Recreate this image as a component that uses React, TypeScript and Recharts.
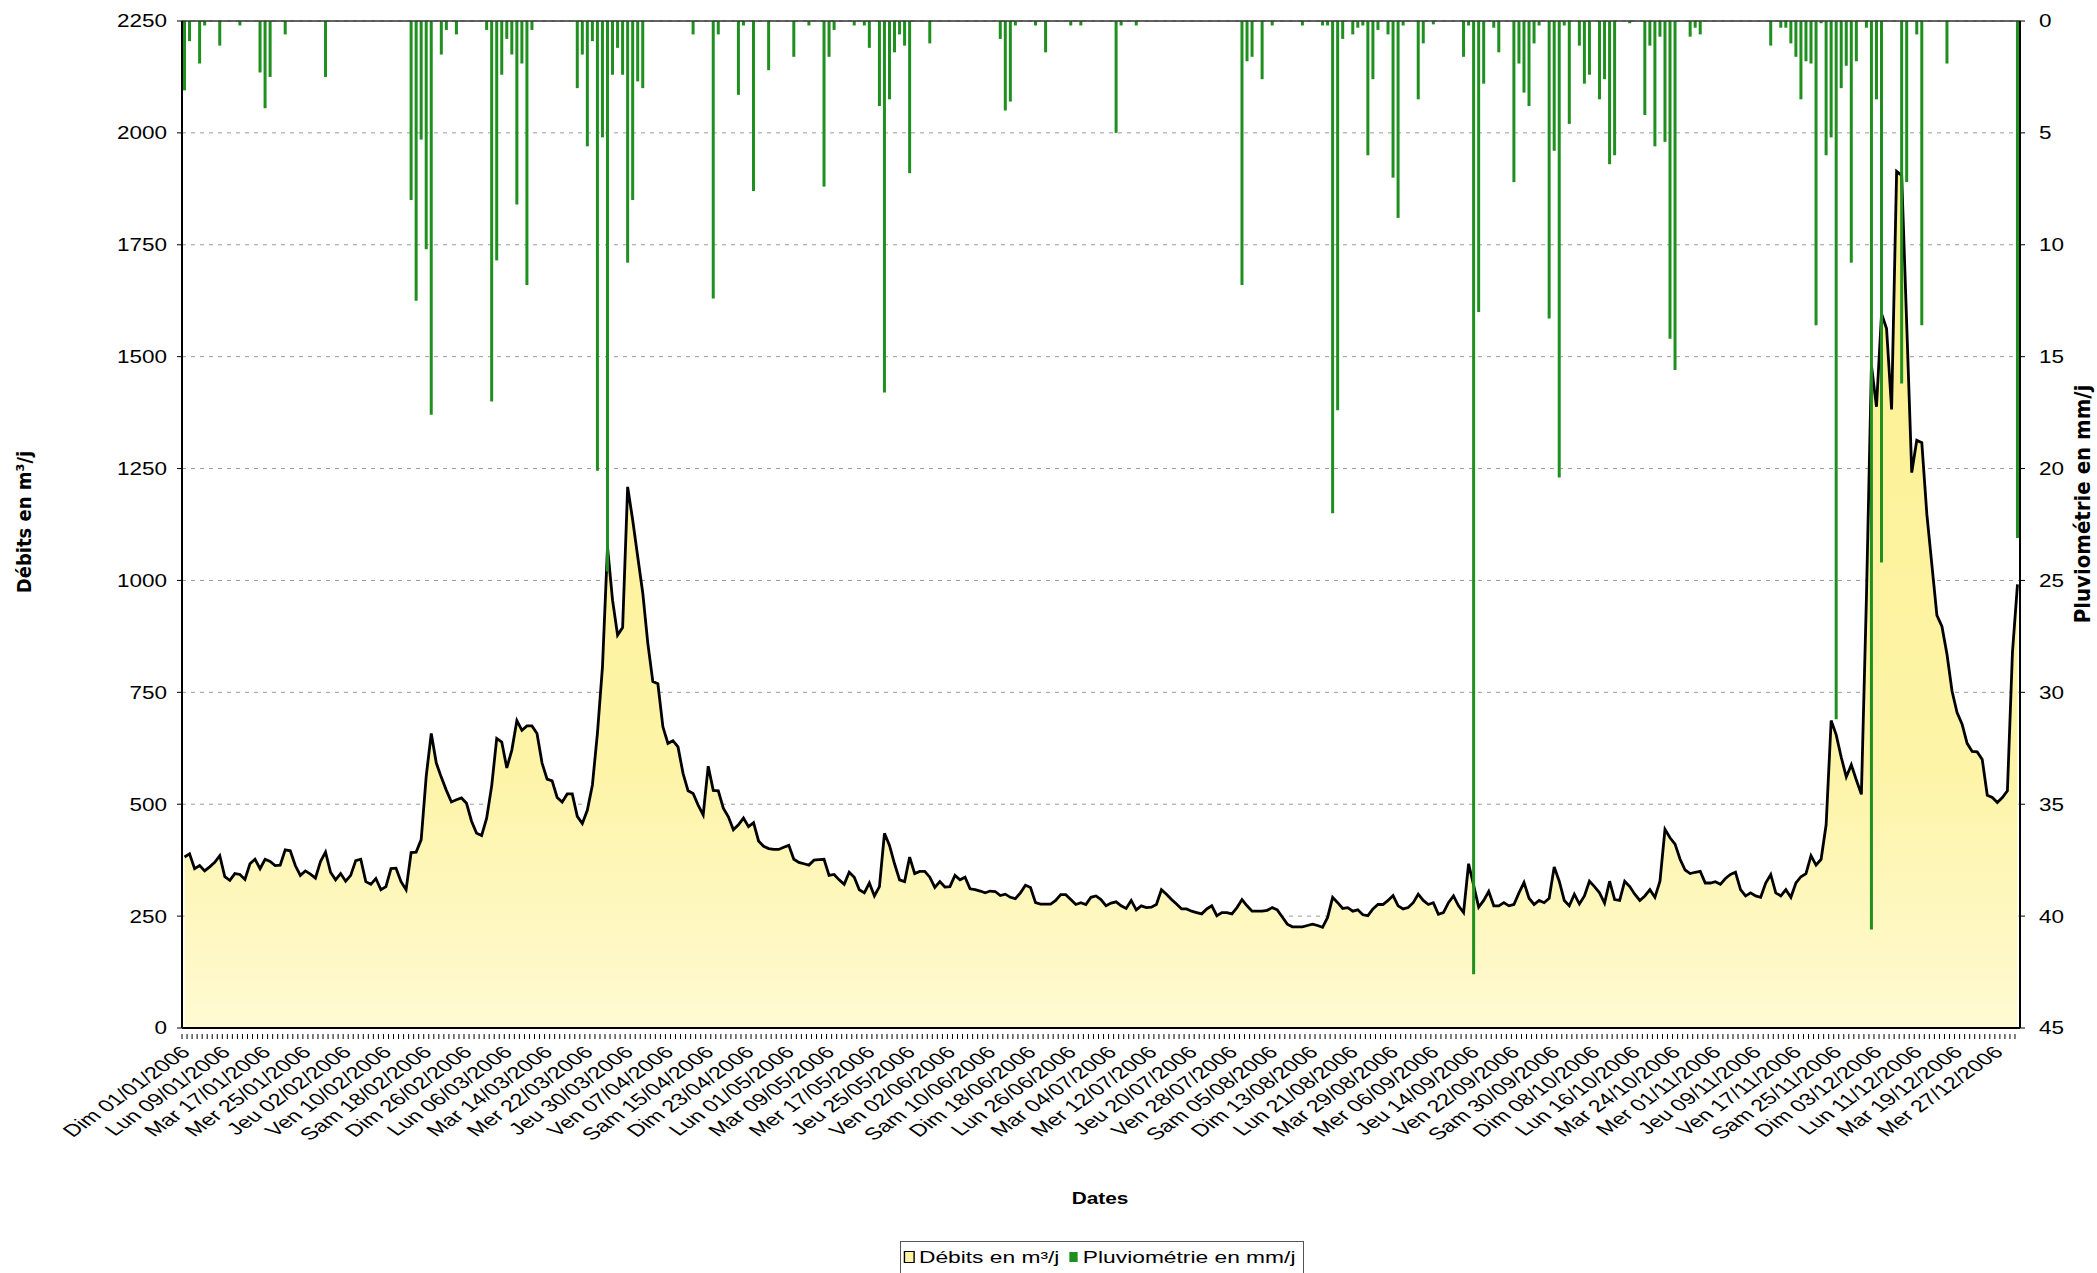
import { ComposedChart, Area, Bar, XAxis, YAxis, CartesianGrid, ReferenceLine } from "recharts";

// Débits journaliers (m³/j), mois par mois
const DEBITS_JAN = [382, 389, 356, 363, 351, 360, 370, 385, 338, 330, 345, 343, 332, 367, 377, 356, 377, 372, 363, 364, 398, 396, 363, 341, 351, 344, 335, 372, 393, 348, 331];
const DEBITS_FEV = [345, 328, 341, 374, 377, 327, 321, 334, 309, 316, 356, 357, 327, 309, 392, 393, 421, 563, 658, 592, 560, 531, 505, 510, 514, 502, 462, 435];
const DEBITS_MAR = [430, 469, 541, 647, 639, 581, 621, 687, 665, 675, 675, 658, 592, 556, 552, 515, 505, 523, 523, 473, 457, 487, 543, 659, 807, 1075, 956, 878, 895, 1209, 1135];
const DEBITS_AVR = [1053, 972, 860, 774, 769, 673, 636, 642, 628, 569, 530, 524, 498, 476, 585, 531, 530, 491, 472, 443, 454, 469, 450, 459, 418, 406, 401, 399, 399, 404];
const DEBITS_MAI = [408, 377, 370, 367, 364, 375, 376, 377, 341, 343, 331, 321, 348, 337, 309, 302, 324, 295, 316, 435, 408, 367, 331, 327, 382, 345, 350, 350, 337, 314, 327];
const DEBITS_JUN = [315, 316, 341, 331, 337, 311, 309, 306, 302, 306, 305, 296, 299, 292, 289, 302, 319, 314, 280, 277, 277, 277, 285, 298, 298, 287, 276, 280, 276, 292];
const DEBITS_JUL = [295, 287, 273, 279, 282, 273, 267, 285, 264, 273, 269, 270, 276, 309, 299, 287, 277, 266, 266, 261, 258, 255, 266, 273, 251, 258, 258, 255, 269, 287, 273];
const DEBITS_AOU = [261, 261, 261, 263, 269, 264, 248, 232, 226, 226, 226, 229, 232, 229, 225, 247, 292, 280, 267, 269, 261, 264, 253, 251, 266, 276, 276, 285, 296, 273, 266];
const DEBITS_SEP = [269, 280, 299, 285, 276, 280, 254, 258, 280, 295, 273, 258, 367, 319, 270, 285, 305, 273, 273, 280, 273, 276, 302, 325, 290, 276, 285, 280, 290, 360];
const DEBITS_OCT = [328, 285, 273, 299, 277, 295, 328, 316, 302, 279, 328, 287, 285, 328, 316, 299, 285, 295, 309, 292, 328, 444, 425, 411, 377, 353, 345, 348, 350, 324, 324];
const DEBITS_NOV = [327, 321, 334, 343, 348, 309, 295, 302, 295, 292, 324, 343, 302, 295, 309, 292, 324, 338, 345, 385, 364, 377, 454, 687, 655, 605, 561, 588, 554, 522];
const DEBITS_DEC = [960, 1480, 1388, 1596, 1563, 1382, 1914, 1905, 1573, 1241, 1313, 1308, 1148, 1035, 922, 897, 835, 753, 705, 679, 636, 618, 617, 600, 520, 515, 504, 515, 530, 839, 991];

const DEBITS = [
  ...DEBITS_JAN, ...DEBITS_FEV, ...DEBITS_MAR, ...DEBITS_AVR, ...DEBITS_MAI, ...DEBITS_JUN,
  ...DEBITS_JUL, ...DEBITS_AOU, ...DEBITS_SEP, ...DEBITS_OCT, ...DEBITS_NOV, ...DEBITS_DEC,
];

// Pluviométrie (mm/j) : jour de l'année (0 = 01/01) et hauteur
const PLUIE_JOURS = [
  0, 1, 3, 4, 7, 11, 15, 16, 17, 20, 28, 45, 46, 47, 48, 49, 51, 52, 54, 60,
  61, 62, 63, 64, 65, 66, 67, 68, 69, 78, 79, 80, 81, 82, 83, 84, 85, 86, 87, 88,
  89, 90, 91, 101, 105, 106, 110, 111, 113, 116, 121, 124, 127, 128, 129, 133, 135, 136, 138, 139,
  140, 141, 142, 143, 144, 148, 162, 163, 164, 165, 169, 171, 176, 178, 185, 186, 189, 210, 211, 212,
  214, 216, 222, 226, 227, 228, 229, 230, 232, 233, 234, 235, 236, 237, 239, 240, 241, 242, 245, 246,
  248, 254, 255, 256, 257, 258, 260, 261, 264, 265, 266, 267, 268, 269, 271, 272, 273, 274, 275, 277,
  278, 279, 281, 282, 283, 284, 287, 290, 291, 292, 293, 294, 295, 296, 299, 300, 301, 315, 317, 318,
  319, 320, 321, 322, 323, 324, 325, 326, 327, 328, 329, 330, 331, 332, 334, 335, 336, 337, 341, 342,
  344, 345, 350, 364,
];
const PLUIE_MM = [
  3.1, 0.9, 1.9, 0.2, 1.1, 0.2, 2.3, 3.9, 2.5, 0.6, 2.5, 8.0, 12.5, 5.3, 10.2, 17.6, 1.5, 0.4, 0.6, 0.4,
  17.0, 10.7, 2.4, 0.8, 1.5, 8.2, 1.9, 11.8, 0.4, 3.0, 1.5, 5.6, 0.9, 20.1, 5.2, 24.6, 2.4, 1.2, 2.4, 10.8,
  8.0, 2.7, 3.0, 0.6, 12.4, 0.6, 3.3, 0.2, 7.6, 2.2, 1.6, 0.2, 7.4, 1.6, 0.4, 0.2, 0.2, 1.2, 3.8, 16.6,
  3.5, 1.4, 0.6, 1.1, 6.8, 1.0, 0.8, 4.0, 3.6, 0.2, 0.2, 1.4, 0.2, 0.2, 5.0, 0.2, 0.2, 11.8, 1.8, 1.6,
  2.6, 0.2, 0.2, 0.2, 0.2, 22.0, 17.4, 0.8, 0.6, 0.3, 0.2, 6.0, 2.6, 0.4, 0.6, 7.0, 8.8, 0.2, 3.5, 1.0,
  0.15, 1.6, 0.2, 42.6, 13.0, 2.8, 0.3, 1.4, 7.2, 1.9, 3.2, 3.8, 1.0, 0.2, 13.3, 5.8, 20.4, 0.2, 4.6, 1.1,
  2.8, 2.4, 3.5, 2.6, 6.4, 6.0, 0.1, 4.2, 1.1, 5.6, 0.7, 5.4, 14.2, 15.6, 0.7, 0.3, 0.6, 1.1, 0.3, 0.3,
  1.0, 1.6, 3.5, 1.8, 1.9, 13.6, 0.1, 6.0, 5.2, 31.2, 3.0, 2.0, 10.8, 1.8, 0.3, 40.6, 3.5, 24.2, 16.2, 7.2,
  0.6, 13.6, 1.9, 23.1,
];

const DEBIT_TICKS = [0, 250, 500, 750, 1000, 1250, 1500, 1750, 2000, 2250];
const PLUIE_TICKS = [0, 5, 10, 15, 20, 25, 30, 35, 40, 45];
const JOURS = ["Dim", "Lun", "Mar", "Mer", "Jeu", "Ven", "Sam"];

const pad = (n: number) => String(n).padStart(2, "0");

function dateLabel(i: number) {
  const d = new Date(Date.UTC(2006, 0, 1 + i));
  return `${JOURS[d.getUTCDay()]} ${pad(d.getUTCDate())}/${pad(d.getUTCMonth() + 1)}/${d.getUTCFullYear()}`;
}

const data = DEBITS.map((debit, i) => ({ label: dateLabel(i), debit, pluie: null as number | null }));
PLUIE_JOURS.forEach((d, k) => {
  data[d].pluie = PLUIE_MM[k];
});

const FONT = "'Liberation Sans', Arial, sans-serif";
const NARROW = "'Liberation Sans Narrow', 'DejaVu Sans Condensed', 'Liberation Sans', sans-serif";

// small tick on every day, a label every 8 days (stretched like the scanned original)
const DateTick = (props: any) => {
  const { x, y, payload } = props;
  const i = payload.index;
  return (
    <g>
      <line x1={x - 2.5} y1={y} x2={x - 2.5} y2={y + 5} stroke="#000" strokeWidth={1} />
      {i % 8 === 0 && (
        <text
          transform={`translate(${x + 1},${y + 15}) scale(1.4,1) rotate(-45)`}
          textAnchor="end"
          dy="0.35em"
          fontSize={17}
          fontFamily={FONT}
          fill="#000"
        >
          {payload.value}
        </text>
      )}
    </g>
  );
};

const ValueTick = (props: any) => {
  const { x, y, payload, textAnchor } = props;
  return (
    <text
      transform={`translate(${x},${y}) scale(1.25,1)`}
      textAnchor={textAnchor}
      dy="0.36em"
      fontSize={18}
      fontFamily={FONT}
      fill="#000"
    >
      {payload.value}
    </text>
  );
};

export default function App() {
  return (
    <div style={{ position: "absolute", left: 0, top: 0, width: 2097, height: 1273, background: "#fff", fontFamily: FONT }}>
      <ComposedChart
        width={2097}
        height={1273}
        data={data}
        margin={{ top: 21, right: 17, bottom: 145, left: 102 }}
        barGap={0}
      >
        <defs>
          <linearGradient id="debitFill" x1="0" y1="0" x2="0" y2="1">
            <stop offset="0%" stopColor="#fcf08e" />
            <stop offset="70%" stopColor="#fdf4a8" />
            <stop offset="100%" stopColor="#fffad2" />
          </linearGradient>
        </defs>
        <CartesianGrid yAxisId="left" vertical={false} stroke="#9a9a9a" strokeDasharray="4 5" />
        <XAxis
          dataKey="label"
          interval={0}
          height={100}
          tickLine={false}
          tickMargin={0}
          axisLine={{ stroke: "#000", strokeWidth: 2 }}
          tick={<DateTick />}
        />
        <YAxis
          yAxisId="left"
          domain={[0, 2250]}
          ticks={DEBIT_TICKS}
          width={80}
          tickSize={5}
          tickMargin={10}
          axisLine={{ stroke: "#000", strokeWidth: 2 }}
          tickLine={{ stroke: "#000" }}
          tick={<ValueTick />}
        />
        <YAxis
          yAxisId="right"
          orientation="right"
          reversed
          domain={[0, 45]}
          ticks={PLUIE_TICKS}
          width={60}
          tickSize={5}
          tickMargin={14}
          axisLine={{ stroke: "#000", strokeWidth: 2 }}
          tickLine={{ stroke: "#000" }}
          tick={<ValueTick />}
        />
        <ReferenceLine yAxisId="left" y={2250} stroke="#333" strokeWidth={1.5} />
        <Area
          yAxisId="left"
          type="linear"
          dataKey="debit"
          name="Débits en m³/j"
          stroke="#000"
          strokeWidth={2.8}
          fill="url(#debitFill)"
          fillOpacity={1}
          dot={false}
          activeDot={false}
          isAnimationActive={false}
        />
        <Bar
          yAxisId="right"
          dataKey="pluie"
          name="Pluviométrie en mm/j"
          fill="#1f8f1f"
          barSize={3}
          isAnimationActive={false}
        />
      </ComposedChart>

      {/* axis titles */}
      <div
        style={{
          position: "absolute", left: 24, top: 522, transform: "translate(-50%,-50%) rotate(-90deg)",
          whiteSpace: "nowrap", fontFamily: NARROW, fontWeight: 700, fontSize: 20, fontStretch: "condensed",
        }}
      >
        Débits en m³/j
      </div>
      <div
        style={{
          position: "absolute", left: 2082, top: 504, transform: "translate(-50%,-50%) rotate(-90deg)",
          whiteSpace: "nowrap", fontFamily: NARROW, fontWeight: 700, fontSize: 22, fontStretch: "condensed",
        }}
      >
        Pluviométrie en mm/j
      </div>
      <div
        style={{
          position: "absolute", left: 1100, top: 1199, transform: "translate(-50%,-50%) scaleX(1.3)",
          whiteSpace: "nowrap", fontWeight: 700, fontSize: 16,
        }}
      >
        Dates
      </div>

      {/* legend */}
      <div
        style={{
          position: "absolute", left: 900, top: 1241, width: 404, height: 40, boxSizing: "border-box",
          border: "1px solid #555", background: "#fff",
        }}
      >
        <div
          style={{
            display: "flex", alignItems: "center", whiteSpace: "nowrap", fontSize: 16.5, color: "#000",
            transform: "scaleX(1.38)", transformOrigin: "left center", paddingLeft: 2, height: 30,
          }}
        >
          <span style={{ display: "inline-block", width: 6, height: 10, background: "#fdf4a6", border: "1.5px solid #000", marginRight: 3 }} />
          <span>Débits en m³/j</span>
          <span style={{ display: "inline-block", width: 6, height: 10, background: "#1f8f1f", marginLeft: 7, marginRight: 4 }} />
          <span>Pluviométrie en mm/j</span>
        </div>
      </div>
    </div>
  );
}
